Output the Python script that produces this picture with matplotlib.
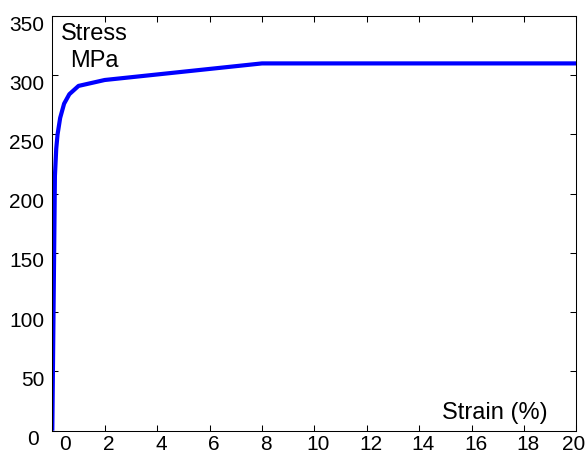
import matplotlib
matplotlib.use("Agg")
import matplotlib.pyplot as plt
import matplotlib.transforms as mtransforms

plt.rcParams['font.family'] = ['Liberation Sans', 'DejaVu Sans']

# Data
strain = [0.0, 0.1, 0.15, 0.2, 0.3, 0.45, 0.65, 1.0, 2.0, 8.0, 20.0]
stress = [0.0, 215, 238, 250, 264, 276, 284, 291, 296, 310, 310]

xticks = [0, 2, 4, 6, 8, 10, 12, 14, 16, 18, 20]
yticks = [0, 50, 100, 150, 200, 250, 300, 350]

fig = plt.figure(figsize=(5.87, 4.55), dpi=100)
ax = fig.add_axes([0.0891, 0.0534, 0.893, 0.9114])

ax.plot(strain, stress, color='#0000ff', linewidth=3, solid_capstyle='butt')

ax.set_xlim(0, 20)
ax.set_ylim(0, 350)
ax.set_xticks(xticks)
ax.set_yticks(yticks)
ax.tick_params(direction='in', length=4.3, width=0.75, top=True, right=True,
               labelbottom=False, labelleft=False)
for s in ax.spines.values():
    s.set_linewidth(0.75)

# Tick labels drawn manually (MATLAB-style offsets)
xtrans = mtransforms.blended_transform_factory(ax.transData, ax.transAxes)
ytrans = mtransforms.blended_transform_factory(ax.transAxes, ax.transData)
for v in xticks:
    dx = 4
    if v == xticks[0]:
        dx = 13
    elif v == xticks[-1]:
        dx = -3
    off = mtransforms.ScaledTranslation(dx / 100, -19.5 / 100, fig.dpi_scale_trans)
    ax.text(v, 0, str(v), transform=xtrans + off, ha='center', va='baseline',
            fontsize=15, clip_on=False)
for v in yticks:
    dx = -8 if v != yticks[0] else -13
    off = mtransforms.ScaledTranslation(dx / 100, -14.5 / 100, fig.dpi_scale_trans)
    ax.text(0, v, str(v), transform=ytrans + off, ha='right', va='baseline',
            fontsize=15, clip_on=False)

ax.text(0.0805, 0.942, 'Stress', transform=ax.transAxes, ha='center',
        va='baseline', fontsize=17)
ax.text(0.0805, 0.878, 'MPa', transform=ax.transAxes, ha='center',
        va='baseline', fontsize=17)
ax.text(0.7428, 0.0282, 'Strain (%)', transform=ax.transAxes, ha='left',
        va='baseline', fontsize=17)

fig.savefig('out.png', dpi=100)
